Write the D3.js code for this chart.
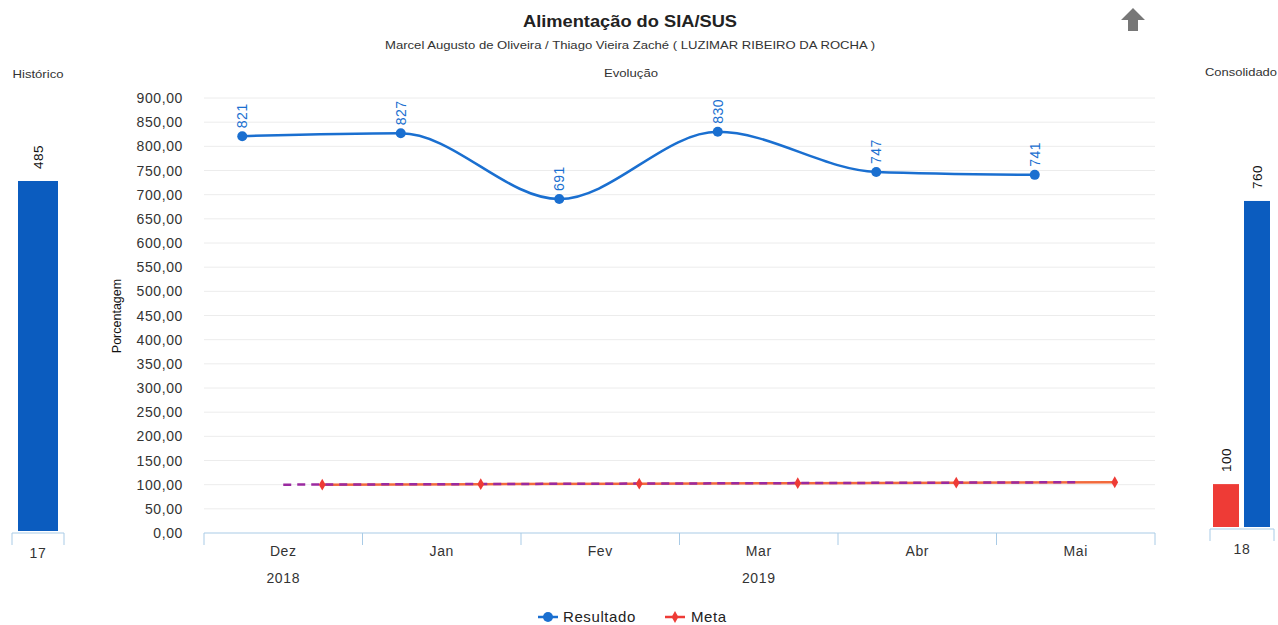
<!DOCTYPE html>
<html>
<head>
<meta charset="utf-8">
<script src="https://cdn.jsdelivr.net/npm/d3@7"></script>
<style>
  body { margin: 0; background: #fff; }
  svg { font-family: "Liberation Sans", Arial, sans-serif; }
</style>
</head>
<body>
<svg id="chart" width="1278" height="625"></svg>
<script>
// dados
const months = ["Dez", "Jan", "Fev", "Mar", "Abr", "Mai"];
const yearGroups = [
  { label: "2018", from: "Dez", to: "Dez" },
  { label: "2019", from: "Jan", to: "Mai" }
];
const resultado = [821, 827, 691, 830, 747, 741];
const meta = [100, 101, 102, 103, 104, 105];
const yTicks = [0, 50, 100, 150, 200, 250, 300, 350, 400, 450, 500, 550, 600, 650, 700, 750, 800, 850, 900];

const historicoCats = ["17"];
const historicoValues = [485];

const consolidadoCats = ["18"];
const consolidadoMeta = [100];
const consolidadoResultado = [760];

const blue = "#1a6fd0";
const barBlue = "#0b5cbf";
const red = "#ee3b36";
const purple = "#9a2aa0";
const axisBlue = "#a9cbe6";
const gridColor = "#ececec";
const textColor = "#333";

const fmt = v => d3.format(".2f")(v).replace(".", ",");

var svg = d3.select("#chart");

// texto com largura fixa (o original parece esticado na horizontal)
function label(xp, yp, txt, size, width, opts) {
  opts = opts || {};
  var t = svg.append("text").attr("x", xp).attr("y", yp).attr("text-anchor", "middle")
    .attr("font-size", size).attr("fill", opts.fill || textColor)
    .attr("font-weight", opts.bold ? "bold" : null).text(txt);
  if (width) t.attr("textLength", width).attr("lengthAdjust", "spacingAndGlyphs");
  return t;
}

// titulos
label(630, 27, "Alimentação do SIA/SUS", 16.5, 214, { bold: true, fill: "#222" });
label(630, 49, "Marcel Augusto de Oliveira / Thiago Vieira Zaché ( LUZIMAR RIBEIRO DA ROCHA )", 11.5, 490);
label(631, 77, "Evolução", 11.5, 54);
label(38, 78, "Histórico", 11.5, 51);
label(1241, 76, "Consolidado", 11.5, 72);

// seta
svg.append("path")
  .attr("d", "M1133,8 L1145,20 L1138,20 L1138,31 L1128,31 L1128,20 L1121,20 Z")
  .attr("fill", "#777");

// grafico principal
const x = d3.scaleBand().domain(months).range([204, 1155]);
const y = d3.scaleLinear().domain([0, 900]).range([533, 98]);
const bw = x.bandwidth();
const xRes = m => x(m) + bw / 2 - 41;
const xMeta = m => x(m) + bw / 2 + 39;
const xMid = m => x(m) + bw / 2;

svg.append("g").selectAll("line").data(yTicks.filter(t => t > 0)).join("line")
  .attr("x1", 204).attr("x2", 1155)
  .attr("y1", d => y(d)).attr("y2", d => y(d))
  .attr("stroke", gridColor).attr("stroke-width", 1);

svg.append("g").selectAll("text").data(yTicks).join("text")
  .attr("x", 183).attr("y", d => y(d) + 5).attr("text-anchor", "end")
  .attr("font-size", 14).attr("letter-spacing", 0.6).attr("fill", textColor).text(d => fmt(d));

svg.append("text")
  .attr("transform", "translate(121,316) rotate(-90)")
  .attr("text-anchor", "middle").attr("font-size", 12.5).attr("fill", "#111")
  .text("Porcentagem");

// eixo x
const xAxis = svg.append("g");
xAxis.append("line").attr("x1", 204).attr("x2", 1155).attr("y1", 533).attr("y2", 533)
  .attr("stroke", axisBlue);
xAxis.selectAll("line.tk").data(months.map(m => x(m)).concat([1155])).join("line")
  .attr("class", "tk").attr("x1", d => d).attr("x2", d => d)
  .attr("y1", 533).attr("y2", 545).attr("stroke", axisBlue);
xAxis.selectAll("text.m").data(months).join("text")
  .attr("class", "m").attr("x", d => xMid(d)).attr("y", 556)
  .attr("text-anchor", "middle").attr("font-size", 14).attr("letter-spacing", 0.6)
  .attr("fill", textColor).text(d => d);
xAxis.selectAll("text.y").data(yearGroups).join("text")
  .attr("class", "y")
  .attr("x", d => (x(d.from) + x(d.to) + bw) / 2).attr("y", 583)
  .attr("text-anchor", "middle").attr("font-size", 14).attr("letter-spacing", 0.6)
  .attr("fill", textColor).text(d => d.label);

// meta
const metaLine = d3.line().x((d, i) => xMeta(months[i])).y(d => y(d));
svg.append("path").datum(meta).attr("d", metaLine)
  .attr("fill", "none").attr("stroke", "#f26a3c").attr("stroke-width", 2.5);
const trendLine = d3.line().x((d, i) => xMid(months[i])).y(d => y(d));
svg.append("path").datum(meta).attr("d", trendLine)
  .attr("fill", "none").attr("stroke", purple).attr("stroke-width", 2.5)
  .attr("stroke-dasharray", "8,6");
svg.append("g").selectAll("path").data(meta).join("path")
  .attr("d", d3.symbol().type(d3.symbolDiamond).size(40))
  .attr("transform", (d, i) => `translate(${xMeta(months[i])},${y(d)})`)
  .attr("fill", red);

// resultado
const resLine = d3.line().x((d, i) => xRes(months[i])).y(d => y(d)).curve(d3.curveMonotoneX);
svg.append("path").datum(resultado).attr("d", resLine)
  .attr("fill", "none").attr("stroke", blue).attr("stroke-width", 2.5);
svg.append("g").selectAll("circle").data(resultado).join("circle")
  .attr("cx", (d, i) => xRes(months[i])).attr("cy", d => y(d)).attr("r", 5)
  .attr("fill", blue);
svg.append("g").selectAll("text").data(resultado).join("text")
  .attr("transform", (d, i) => `translate(${xRes(months[i]) + 5},${y(d) - 8}) rotate(-90)`)
  .attr("font-size", 14).attr("letter-spacing", 0.5).attr("fill", blue).text(d => d);

// historico
const yHist = d3.scaleLinear().domain([0, 600]).range([531, 98]);
const xHist = d3.scaleBand().domain(historicoCats).range([12, 64]);
svg.append("g").selectAll("rect").data(historicoValues).join("rect")
  .attr("x", (d, i) => xHist(historicoCats[i]) + 6).attr("width", xHist.bandwidth() - 12)
  .attr("y", d => yHist(d)).attr("height", d => yHist(0) - yHist(d))
  .attr("fill", barBlue);
svg.append("g").selectAll("text").data(historicoValues).join("text")
  .attr("transform", (d, i) => `translate(${xHist(historicoCats[i]) + xHist.bandwidth() / 2 + 5},${yHist(d) - 12}) rotate(-90)`)
  .attr("font-size", 13.5).attr("letter-spacing", 0.5).attr("fill", "#111").text(d => d);
svg.append("path").attr("d", "M12,545 V533 H64 V545").attr("fill", "none").attr("stroke", axisBlue);
svg.append("g").selectAll("text").data(historicoCats).join("text")
  .attr("x", d => xHist(d) + xHist.bandwidth() / 2).attr("y", 558)
  .attr("text-anchor", "middle").attr("font-size", 14).attr("letter-spacing", 0.6)
  .attr("fill", textColor).text(d => d);

// consolidado
const yCons = d3.scaleLinear().domain([0, 1000]).range([527, 98]);
const xCons = d3.scaleBand().domain(consolidadoCats).range([1210, 1274]);
const cb = xCons.bandwidth();
const consBars = [
  { v: consolidadoMeta[0], color: red, off: 3 },
  { v: consolidadoResultado[0], color: barBlue, off: 34 }
];
svg.append("g").selectAll("rect").data(consBars).join("rect")
  .attr("x", d => xCons(consolidadoCats[0]) + d.off).attr("width", 26)
  .attr("y", d => yCons(d.v)).attr("height", d => yCons(0) - yCons(d.v))
  .attr("fill", d => d.color);
svg.append("g").selectAll("text").data(consBars).join("text")
  .attr("transform", d => `translate(${xCons(consolidadoCats[0]) + d.off + 18},${yCons(d.v) - 12}) rotate(-90)`)
  .attr("font-size", 13.5).attr("letter-spacing", 0.5).attr("fill", "#111").text(d => d.v);
svg.append("path").attr("d", "M1210,541 V529 H1274 V541").attr("fill", "none").attr("stroke", axisBlue);
svg.append("g").selectAll("text").data(consolidadoCats).join("text")
  .attr("x", d => xCons(d) + cb / 2).attr("y", 554)
  .attr("text-anchor", "middle").attr("font-size", 14).attr("letter-spacing", 0.6)
  .attr("fill", textColor).text(d => d);

// legenda
const legend = svg.append("g");
legend.append("line").attr("x1", 538).attr("x2", 558).attr("y1", 617).attr("y2", 617)
  .attr("stroke", blue).attr("stroke-width", 2.5);
legend.append("circle").attr("cx", 548).attr("cy", 617).attr("r", 5).attr("fill", blue);
legend.append("text").attr("x", 563).attr("y", 622).attr("font-size", 15).attr("letter-spacing", 0.6)
  .attr("fill", "#222").text("Resultado");
legend.append("line").attr("x1", 665).attr("x2", 685).attr("y1", 617).attr("y2", 617)
  .attr("stroke", red).attr("stroke-width", 2.5);
legend.append("path").attr("d", d3.symbol().type(d3.symbolDiamond).size(40))
  .attr("transform", "translate(675,617)").attr("fill", red);
legend.append("text").attr("x", 691).attr("y", 622).attr("font-size", 15).attr("letter-spacing", 0.6)
  .attr("fill", "#222").text("Meta");
</script>
</body>
</html>
